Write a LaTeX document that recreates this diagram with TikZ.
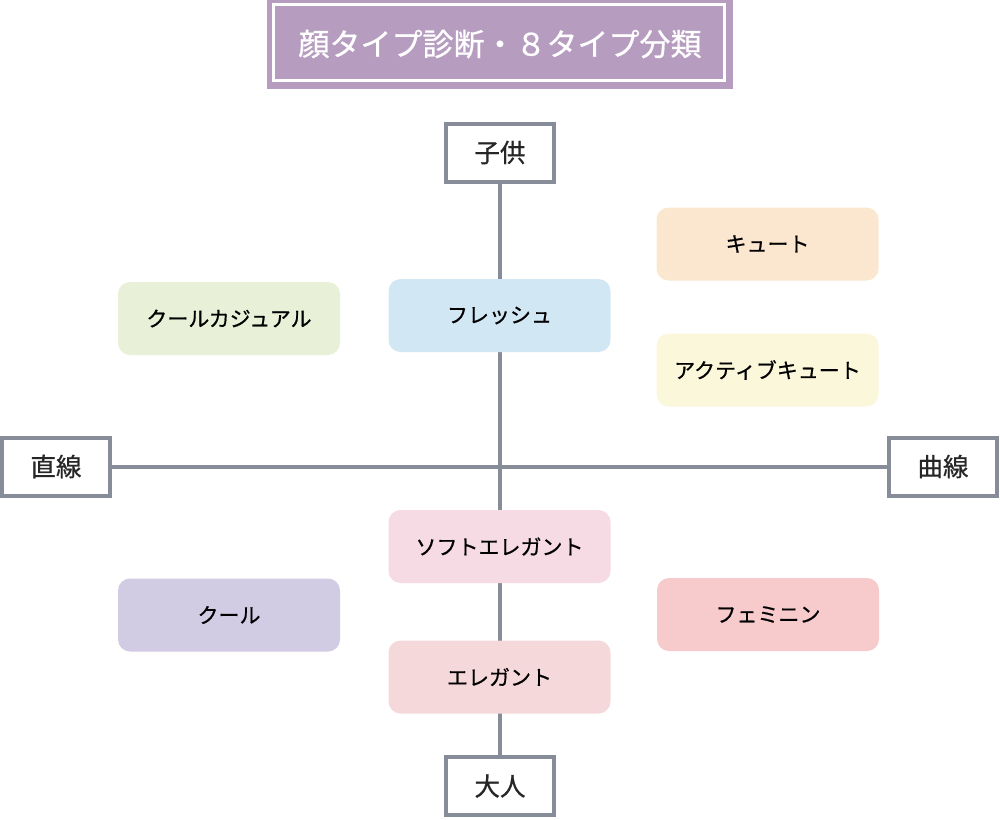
\documentclass[tikz,border=0pt]{standalone}
\usepackage{fontspec}
\setmainfont{Noto Sans CJK JP}[BoldFont={Noto Sans CJK JP}, BoldFeatures={FakeBold=0.7}]
\usetikzlibrary{backgrounds}
\definecolor{axisgray}{HTML}{878C99}
\definecolor{titlepurple}{HTML}{B69DC0}
\definecolor{cCute}{HTML}{FBE7D0}
\definecolor{cActive}{HTML}{FBF7DA}
\definecolor{cCasual}{HTML}{E9F0D8}
\definecolor{cFresh}{HTML}{D2E7F4}
\definecolor{cSoft}{HTML}{F6DAE4}
\definecolor{cElegant}{HTML}{F5D8D9}
\definecolor{cCool}{HTML}{D1CBE4}
\definecolor{cFeminine}{HTML}{F7CBCB}
\tikzset{
  axisbox/.style={draw=axisgray, line width=4pt, fill=white, minimum width=108pt, minimum height=58pt, inner sep=0pt, font=\fontsize{25.5}{30}\selectfont\bfseries, text=black!85},
  typebox/.style={rounded corners=12pt, minimum width=222pt, minimum height=73pt, inner sep=0pt, font=\fontsize{21}{25}\selectfont\bfseries, text=black},
  axisline/.style={draw=axisgray, line width=4pt}
}
\begin{document}
\begin{tikzpicture}[x=1pt,y=-1pt]
\useasboundingbox (0,0) rectangle (1000,819);
% title
\node[fill=titlepurple, minimum width=466pt, minimum height=89pt, inner sep=0pt] (title) at (500,44.5) {};
\draw[white, line width=3pt] (273.5,4.5) rectangle (724.5,80.5);
\node[text=white, font=\fontsize{31}{36}\selectfont\bfseries] (titletext) at (500,44) {顔タイプ診断・８タイプ分類};
% axis labels
\node[axisbox] (child) at (500,152.5) {子供};
\node[axisbox] (straight) at (56,466.5) {直線};
\node[axisbox] (curve) at (943,466.5) {曲線};
\node[axisbox] (adult) at (500,786) {大人};
% type boxes
\node[typebox, fill=cCute] (cute) at (767.5,244) {キュート};
\node[typebox, fill=cActive] (active) at (767.5,370) {アクティブキュート};
\node[typebox, fill=cCasual] (casual) at (229,318.5) {クールカジュアル};
\node[typebox, fill=cFresh] (fresh) at (499.5,315.5) {フレッシュ};
\node[typebox, fill=cSoft] (soft) at (499.5,546.5) {ソフトエレガント};
\node[typebox, fill=cElegant] (elegant) at (499.5,677) {エレガント};
\node[typebox, fill=cCool] (cool) at (229,615) {クール};
\node[typebox, fill=cFeminine] (feminine) at (768,614.5) {フェミニン};
% axes
\begin{scope}[on background layer]
\draw[axisline] (child.south) -- (adult.north);
\draw[axisline] (straight.east) -- (curve.west);
\end{scope}
\end{tikzpicture}
\end{document}
